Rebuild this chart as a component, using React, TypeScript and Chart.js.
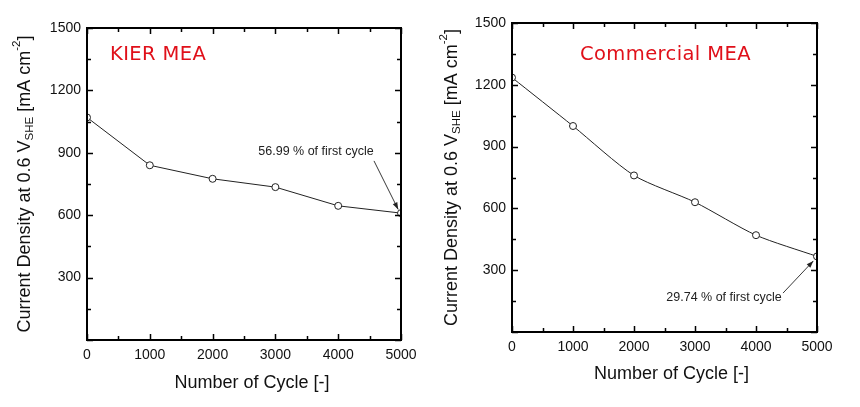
import React, { useEffect, useRef } from "react";
import { Chart, registerables } from "chart.js";

Chart.register(...registerables);

// ---- data ----
const cycles = [0, 1000, 2000, 3000, 4000, 5000];
const kierDensity = [1070, 840, 775, 735, 645, 610];
const commercialDensity = [1235, 1000, 760, 630, 470, 367];
const xMax = 5000;
const yMax = 1500;
const xStep = 1000;
const yStep = 300;
const xMinorStep = 500;
const yMinorStep = 150;
const kierTitle = "KIER MEA";
const commercialTitle = "Commercial MEA";
const kierNote = "56.99 % of first cycle";
const commercialNote = "29.74 % of first cycle";
const xTitle = "Number of Cycle [-]";

// ---- layout / style (kept separate from data) ----
type PanelCfg = {
  left: number;
  values: number[];
  title: string;
  note: string;
  tension: number;
  pad: { top: number; right: number };
  yWidth: number;
  xHeight: number;
  titleOffset: { dx: number; dy: number };
  noteAt: { x: number; y: number };
  arrowFrom: { x: number; y: number };
  arrowTo: { x: number; y: number };
  yTitleX: number;
  xTitleY: number;
  xTitleShift: number;
};

const panels: PanelCfg[] = [
  {
    left: 0,
    values: kierDensity,
    title: kierTitle,
    note: kierNote,
    tension: 0,
    pad: { top: 28, right: 29 },
    yWidth: 87,
    xHeight: 67,
    titleOffset: { dx: 23, dy: 32 },
    noteAt: { x: 3646, y: 904 },
    arrowFrom: { x: 4570, y: 861 },
    arrowTo: { x: 4955, y: 628 },
    yTitleX: 25,
    xTitleY: 383,
    xTitleShift: 8,
  },
  {
    left: 430,
    values: commercialDensity,
    title: commercialTitle,
    note: commercialNote,
    tension: 0.25,
    pad: { top: 23, right: 43 },
    yWidth: 82,
    xHeight: 75,
    titleOffset: { dx: 68, dy: 37 },
    noteAt: { x: 3475, y: 165 },
    arrowFrom: { x: 4443, y: 189 },
    arrowTo: { x: 4940, y: 345 },
    yTitleX: 22,
    xTitleY: 374,
    xTitleShift: 7,
  },
];

const SANS = "'Liberation Sans', Arial, sans-serif";
const TITLE_FONT = "'DejaVu Sans', Verdana, sans-serif";

function makePlugin(cfg: PanelCfg) {
  return {
    id: "decor",
    afterDraw(chart: any) {
      const { ctx, chartArea: ca, scales } = chart;
      const xs = scales.x;
      const ys = scales.y;
      ctx.save();
      // frame
      ctx.strokeStyle = "#000";
      ctx.lineWidth = 2;
      ctx.strokeRect(ca.left, ca.top, ca.right - ca.left, ca.bottom - ca.top);
      // ticks (inward)
      ctx.lineWidth = 1.5;
      ctx.beginPath();
      for (let v = 0; v <= xMax; v += xMinorStep) {
        const px = Math.round(xs.getPixelForValue(v)) + 0.5;
        const len = v % xStep === 0 ? 6 : 4;
        ctx.moveTo(px, ca.bottom);
        ctx.lineTo(px, ca.bottom - len);
        ctx.moveTo(px, ca.top);
        ctx.lineTo(px, ca.top + len);
      }
      for (let v = 0; v <= yMax; v += yMinorStep) {
        const py = Math.round(ys.getPixelForValue(v)) + 0.5;
        const len = v % yStep === 0 ? 6 : 4;
        ctx.moveTo(ca.left, py);
        ctx.lineTo(ca.left + len, py);
        ctx.moveTo(ca.right, py);
        ctx.lineTo(ca.right - len, py);
      }
      ctx.stroke();

      // panel title
      ctx.fillStyle = "#e0101a";
      ctx.font = `19.5px ${TITLE_FONT}`;
      (ctx as any).letterSpacing = "0.4px";
      ctx.textAlign = "left";
      ctx.textBaseline = "alphabetic";
      ctx.fillText(cfg.title, ca.left + cfg.titleOffset.dx, ca.top + cfg.titleOffset.dy);
      (ctx as any).letterSpacing = "0px";

      // annotation
      ctx.fillStyle = "#222";
      ctx.font = `12.5px ${SANS}`;
      ctx.textAlign = "center";
      ctx.textBaseline = "middle";
      ctx.fillText(cfg.note, xs.getPixelForValue(cfg.noteAt.x), ys.getPixelForValue(cfg.noteAt.y));
      const x1 = xs.getPixelForValue(cfg.arrowFrom.x);
      const y1 = ys.getPixelForValue(cfg.arrowFrom.y);
      const x2 = xs.getPixelForValue(cfg.arrowTo.x);
      const y2 = ys.getPixelForValue(cfg.arrowTo.y);
      ctx.strokeStyle = "#222";
      ctx.lineWidth = 0.9;
      ctx.beginPath();
      ctx.moveTo(x1, y1);
      ctx.lineTo(x2, y2);
      ctx.stroke();
      const ang = Math.atan2(y2 - y1, x2 - x1);
      const hl = 7, hw = 2.5;
      ctx.beginPath();
      ctx.moveTo(x2, y2);
      ctx.lineTo(x2 - hl * Math.cos(ang) + hw * Math.sin(ang), y2 - hl * Math.sin(ang) - hw * Math.cos(ang));
      ctx.lineTo(x2 - hl * Math.cos(ang) - hw * Math.sin(ang), y2 - hl * Math.sin(ang) + hw * Math.cos(ang));
      ctx.closePath();
      ctx.fill();

      // x title
      ctx.fillStyle = "#111";
      ctx.font = `18px ${SANS}`;
      ctx.textAlign = "center";
      ctx.textBaseline = "middle";
      ctx.fillText(xTitle, (ca.left + ca.right) / 2 + cfg.xTitleShift, cfg.xTitleY);

      // y title with subscript / superscript
      const parts = [
        { t: "Current Density at 0.6 V", size: 18, shift: 0 },
        { t: "SHE", size: 11.5, shift: 5 },
        { t: " [mA cm", size: 18, shift: 0 },
        { t: "-2", size: 11.5, shift: -8 },
        { t: "]", size: 18, shift: 0 },
      ];
      let total = 0;
      const widths = parts.map((p) => {
        ctx.font = `${p.size}px ${SANS}`;
        const w = ctx.measureText(p.t).width;
        total += w;
        return w;
      });
      ctx.translate(cfg.yTitleX, (ca.top + ca.bottom) / 2);
      ctx.rotate(-Math.PI / 2);
      ctx.textAlign = "left";
      ctx.textBaseline = "middle";
      let cx = -total / 2;
      parts.forEach((p, i) => {
        ctx.font = `${p.size}px ${SANS}`;
        ctx.fillText(p.t, cx, p.shift);
        cx += widths[i];
      });
      ctx.restore();
    },
  };
}

function Panel({ cfg }: { cfg: PanelCfg }) {
  const ref = useRef<HTMLCanvasElement | null>(null);
  useEffect(() => {
    if (!ref.current) return;
    const chart = new Chart(ref.current, {
      type: "line",
      data: {
        datasets: [
          {
            data: cycles.map((c, i) => ({ x: c, y: cfg.values[i] })),
            borderColor: "#222",
            borderWidth: 1,
            tension: cfg.tension,
            pointRadius: 3.5,
            pointBorderWidth: 1,
            pointBorderColor: "#222",
            pointBackgroundColor: "#fff",
          },
        ],
      },
      options: {
        animation: false,
        responsive: false,
        events: [],
        layout: { padding: { top: cfg.pad.top, right: cfg.pad.right, left: 0, bottom: 0 } },
        plugins: { legend: { display: false }, tooltip: { enabled: false }, title: { display: false } },
        scales: {
          x: {
            type: "linear",
            min: 0,
            max: xMax,
            grid: { display: false, drawTicks: false },
            border: { display: false },
            afterFit: (s: any) => {
              s.height = cfg.xHeight;
            },
            ticks: {
              stepSize: xStep,
              autoSkip: false,
              maxRotation: 0,
              padding: 7,
              color: "#111",
              font: { family: SANS, size: 14 },
              callback: (v: any) => String(v),
            },
          },
          y: {
            type: "linear",
            min: 0,
            max: yMax,
            grid: { display: false, drawTicks: false },
            border: { display: false },
            afterFit: (s: any) => {
              s.width = cfg.yWidth;
            },
            ticks: {
              stepSize: yStep,
              padding: 6,
              color: "#111",
              font: { family: SANS, size: 14 },
              callback: (v: any) => (v === 0 ? "" : String(v)),
            },
          },
        },
      } as any,
      plugins: [makePlugin(cfg)],
    });
    return () => chart.destroy();
  }, [cfg]);
  return (
    <canvas
      ref={ref}
      width={430}
      height={407}
      style={{ position: "absolute", left: cfg.left, top: 0, width: 430, height: 407 }}
    />
  );
}

export default function App() {
  return (
    <div style={{ position: "absolute", left: 0, top: 0, width: 860, height: 407, background: "#fff" }}>
      {panels.map((p, i) => (
        <Panel key={i} cfg={p} />
      ))}
    </div>
  );
}
